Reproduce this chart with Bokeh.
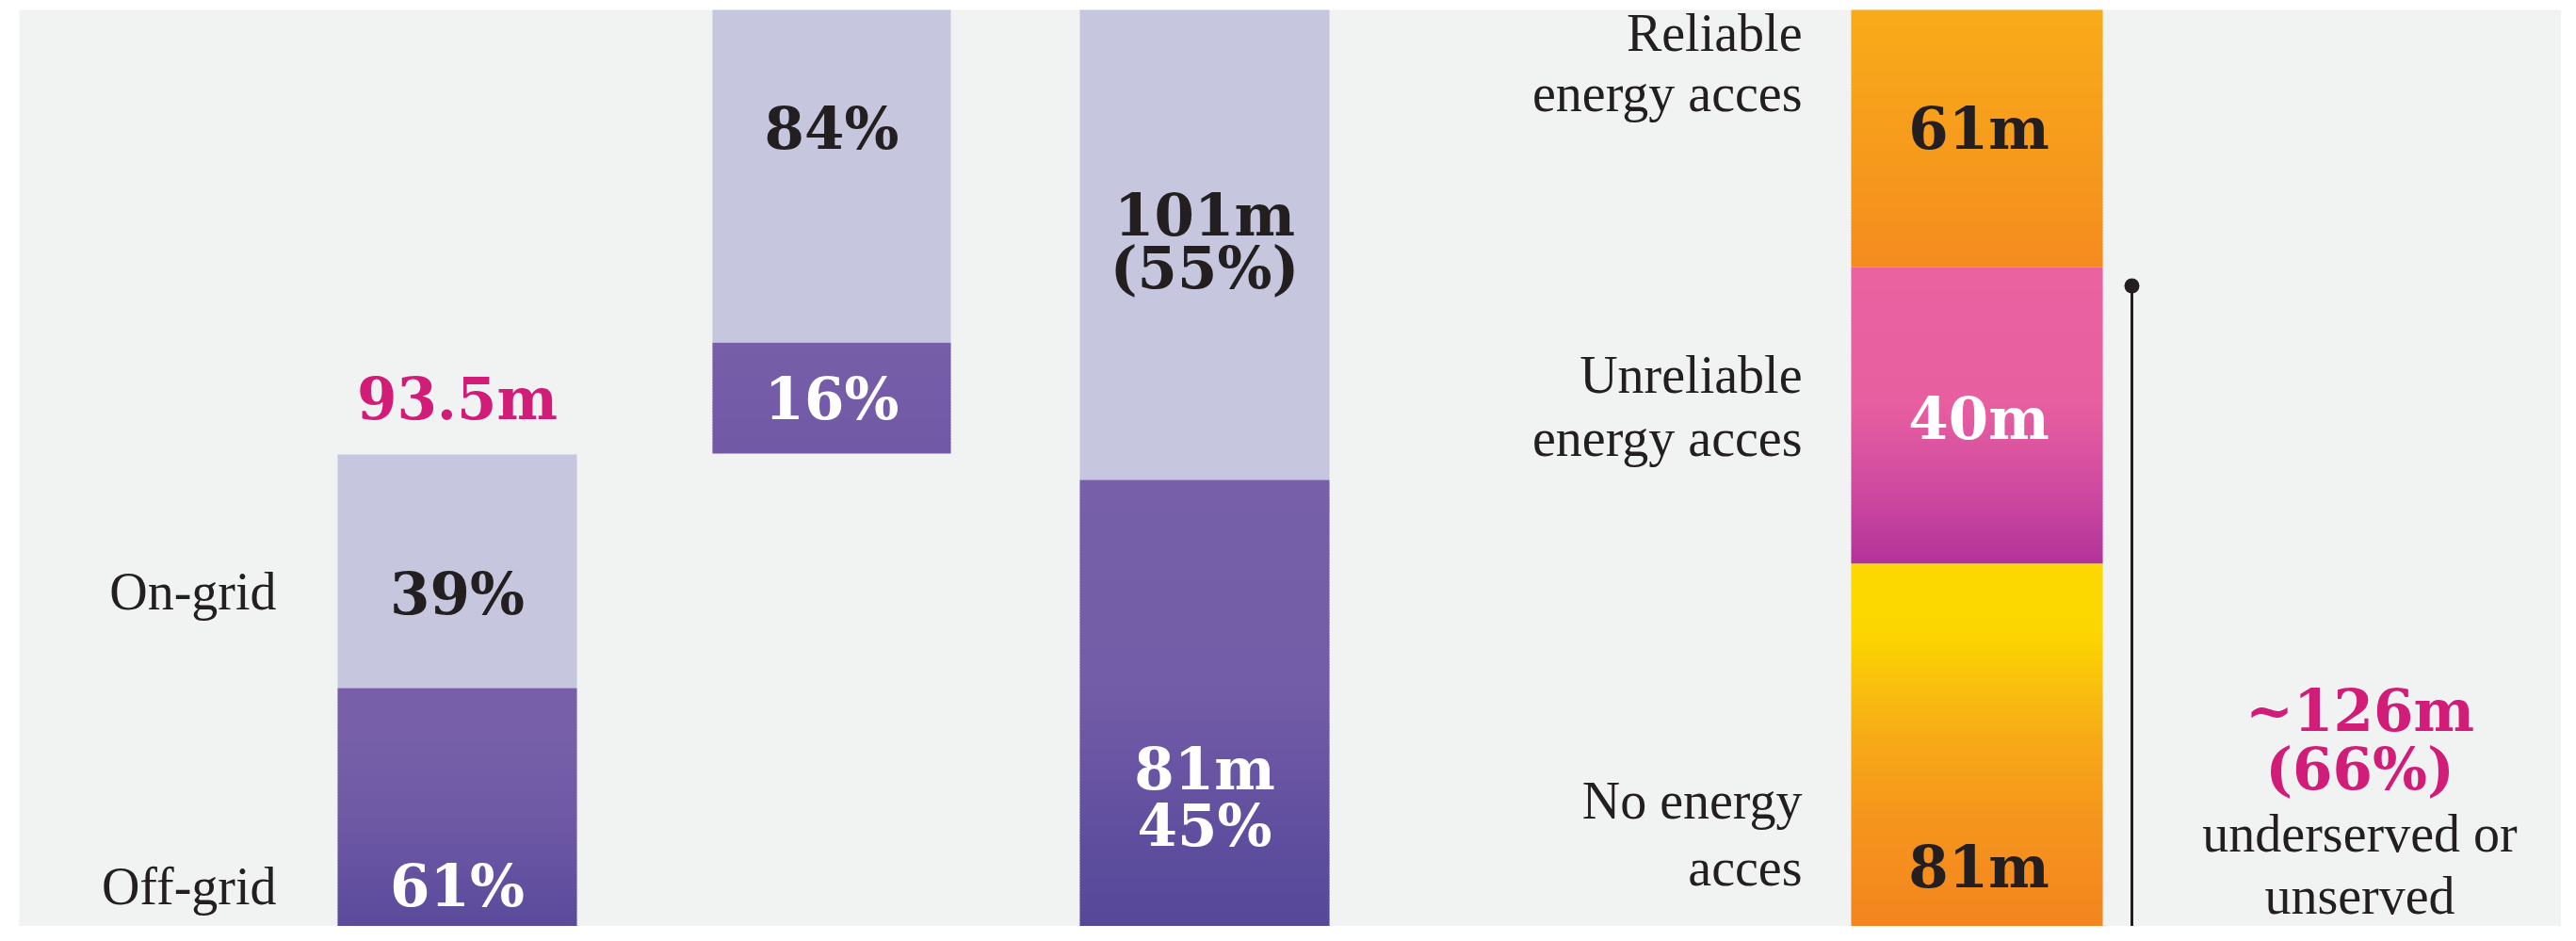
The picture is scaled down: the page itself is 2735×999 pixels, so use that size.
from bokeh.plotting import figure
from bokeh.models import Range1d
from bokeh.core.properties import value
from bokeh.embed import file_html
from bokeh.resources import INLINE

# ---------------- data ----------------
grid_labels = ["On-grid", "Off-grid"]
b1_total = "93.5m"
b1_share = [39, 61]          # % on-grid, off-grid of 93.5m
b2_share = [84, 16]          # % on-grid, off-grid
b3_millions = [101, 81]      # on-grid, off-grid (m)
b3_share = [55, 45]
energy_labels = [["Reliable", "energy acces"], ["Unreliable", "energy acces"], ["No energy", "acces"]]
energy_millions = [61, 40, 81]
underserved_m = 126
underserved_pct = 66

# ---------------- layout / style ----------------
FIG_W, FIG_H = 2719, 983
FX0, FX1, FY0, FY1 = 20, FIG_W, 10, FIG_H   # frame in page pixels
BG = "#f1f2f2"
LIGHT = "#c6c6df"
DARK_TXT = "#231f20"
MAGENTA = "#d11c78"
NUM_FONT = value("DejaVu Serif")
LBL_FONT = value("Liberation Serif")
NUM_SIZE = "61px"
LBL_SIZE = "56px"
TEXT_DY = -20   # baseline correction

p = figure(width=FIG_W, height=FIG_H, output_backend="svg", toolbar_location=None,
           x_axis_location=None, y_axis_location=None, title=None,
           x_range=Range1d(FX0, FX1), y_range=Range1d(FY1, FY0),
           min_border_left=FX0, min_border_top=FY0, min_border_right=0, min_border_bottom=0)
p.background_fill_color = BG
p.border_fill_color = "white"
p.outline_line_color = None
p.xgrid.visible = False
p.ygrid.visible = False


def rgb(h):
    h = h.lstrip("#")
    return tuple(int(h[i:i + 2], 16) for i in (0, 2, 4))


def mix(stops, f):
    for (f0, c0), (f1, c1) in zip(stops, stops[1:]):
        if f <= f1:
            t = 0 if f1 == f0 else (f - f0) / (f1 - f0)
            a, b = rgb(c0), rgb(c1)
            return "#%02x%02x%02x" % tuple(int(round(a[i] + (b[i] - a[i]) * t)) for i in range(3))
    return stops[-1][1]


def segment(xc, w, ya, yb, stops):
    """draw a bar segment between ya (upper) and yb (lower), with a vertical gradient"""
    top, bot = max(min(ya, yb), FY0 - 2), min(max(ya, yb), FY1 + 2)
    if len(stops) == 1:
        p.quad(left=[xc - w / 2], right=[xc + w / 2], top=[top], bottom=[bot],
               fill_color=stops[0][1], line_color=None)
        return
    step = 3.0
    n = max(1, int((bot - top) / step))
    tops, bots, cols = [], [], []
    for i in range(n):
        y0 = top + (bot - top) * i / n
        y1 = top + (bot - top) * (i + 1) / n
        tops.append(y0)
        bots.append(min(bot, y1 + 0.8))
        cols.append(mix(stops, (i + 0.5) / n))
    p.quad(left=[xc - w / 2] * n, right=[xc + w / 2] * n, top=tops, bottom=bots,
           fill_color=cols, line_color=None)


# bar 1: 93.5m split on-/off-grid
b1_x, b1_w, b1_split, b1_k = 485, 254, 730, 6.36
segment(b1_x, b1_w, b1_split - b1_share[0] * b1_k, b1_split, [(0, LIGHT)])
segment(b1_x, b1_w, b1_split, b1_split + b1_share[1] * b1_k,
        [(0, "#775fa9"), (0.2, "#7760a9"), (0.55, "#6e59a5"), (1, "#5a4a9b")])

# bar 2: percentage split
b2_x, b2_w, b2_base, b2_k = 882.5, 253, 481, 7.375
segment(b2_x, b2_w, b2_base - b2_share[1] * b2_k, b2_base,
        [(0, "#765ea9"), (1, "#7159a6")])
segment(b2_x, b2_w, b2_base - (b2_share[0] + b2_share[1]) * b2_k,
        b2_base - b2_share[1] * b2_k, [(0, LIGHT)])

# bar 3: 101m / 81m
b3_x, b3_w, b3_split, b3_k = 1278.5, 265, 509, 7.875
segment(b3_x, b3_w, b3_split - b3_millions[0] * b3_k, b3_split, [(0, LIGHT)])
segment(b3_x, b3_w, b3_split, b3_split + b3_millions[1] * b3_k,
        [(0, "#7760a9"), (0.45, "#745da8"), (0.8, "#5f4e9e"), (1, "#564899")])

# bar 4: energy access
b4_x, b4_w, b4_split, b4_k = 2098.5, 267, 283, 7.875
y_rel_top = b4_split - energy_millions[0] * b4_k
y_unrel_bot = b4_split + energy_millions[1] * b4_k
y_none_bot = y_unrel_bot + energy_millions[2] * b4_k
segment(b4_x, b4_w, y_rel_top, b4_split,
        [(0, "#f8ac1a"), (0.7, "#f6961d"), (1, "#f58b1f")])
segment(b4_x, b4_w, b4_split, y_unrel_bot,
        [(0, "#ea62a0"), (0.45, "#e85fa0"), (0.75, "#cf4aa0"), (1, "#b3339a")])
segment(b4_x, b4_w, y_unrel_bot, y_none_bot,
        [(0, "#fcd800"), (0.1, "#fcd800"), (0.2, "#fcd500"), (0.25, "#fbcd05"),
         (0.35, "#f9bd10"), (0.5, "#f7a818"), (0.7, "#f5951d"), (1, "#f4841f")])

# bracket for underserved / unserved
brk_x = 2263
p.segment(x0=[brk_x], y0=[b4_split + 20], x1=[brk_x], y1=[FY1 + 5], line_color=DARK_TXT, line_width=3)
p.scatter(x=[brk_x], y=[b4_split + 20], size=16, marker="circle", fill_color=DARK_TXT, line_color=None)


def txt(x, y, s, color=DARK_TXT, align="center", font=NUM_FONT, size=NUM_SIZE, style="bold"):
    p.text(x=[x], y=[y + TEXT_DY], text=[s], text_align=align, text_baseline="alphabetic",
           text_font=font, text_font_size=size, text_font_style=style, text_color=color)


# bar 1 texts
txt(b1_x, 443, b1_total, color=MAGENTA)
txt(b1_x, 650, f"{b1_share[0]}%")
txt(b1_x, 960, f"{b1_share[1]}%", color="white")
txt(293, 647, grid_labels[0], align="right", font=LBL_FONT, size=LBL_SIZE, style="normal")
txt(293, 960, grid_labels[1], align="right", font=LBL_FONT, size=LBL_SIZE, style="normal")

# bar 2 texts
txt(b2_x, 156, f"{b2_share[0]}%")
txt(b2_x, 443, f"{b2_share[1]}%", color="white")

# bar 3 texts
txt(b3_x, 248, f"{b3_millions[0]}m")
txt(b3_x, 304, f"({b3_share[0]}%)")
txt(b3_x, 836, f"{b3_millions[1]}m", color="white")
txt(b3_x, 896, f"{b3_share[1]}%", color="white")

# bar 4 texts
txt(b4_x + 2, 156, f"{energy_millions[0]}m")
txt(b4_x + 2, 464, f"{energy_millions[1]}m", color="white")
txt(b4_x + 2, 940, f"{energy_millions[2]}m")
lbl_x = 1913
for (l1, l2), (y1, y2) in zip(energy_labels, [(54, 118), (417, 484), (869, 940)]):
    txt(lbl_x, y1, l1, align="right", font=LBL_FONT, size=LBL_SIZE, style="normal")
    txt(lbl_x, y2, l2, align="right", font=LBL_FONT, size=LBL_SIZE, style="normal")

# underserved annotation
ann_x = 2505
txt(ann_x, 774, f"~{underserved_m}m", color=MAGENTA)
txt(ann_x, 836, f"({underserved_pct}%)", color=MAGENTA)
txt(ann_x, 904, "underserved or", font=LBL_FONT, size=LBL_SIZE, style="normal")
txt(ann_x, 970, "unserved", font=LBL_FONT, size=LBL_SIZE, style="normal")

open("out.html", "w").write(file_html(p, INLINE))
